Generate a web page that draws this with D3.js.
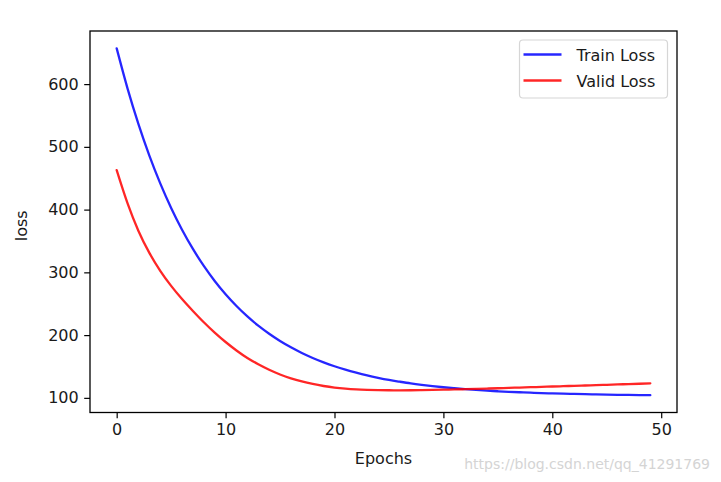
<!DOCTYPE html>
<html>
<head>
<meta charset="utf-8">
<script src="https://cdn.jsdelivr.net/npm/d3@7"></script>
<style>
  html, body { margin: 0; padding: 0; background: #fff; }
  svg { display: block; }
  text { font-family: "DejaVu Sans", sans-serif; fill: #1a1a1a; }
</style>
</head>
<body>
<svg id="chart" width="721" height="482"></svg>
<script>
// ---- data ----
const epochs = d3.range(0, 50);
const trainLoss = [657.0, 592.9, 536.2, 486.1, 441.8, 402.6, 367.9, 337.3, 310.2, 286.2,
  265.0, 246.3, 229.7, 215.0, 202.1, 190.6, 180.5, 171.5, 163.6, 156.6,
  150.4, 144.9, 140.1, 135.8, 132.0, 128.6, 125.7, 123.0, 120.7, 118.7,
  116.9, 115.3, 113.8, 112.6, 111.5, 110.5, 109.6, 108.9, 108.2, 107.6,
  107.1, 106.6, 106.2, 105.8, 105.5, 105.2, 104.9, 104.7, 104.5, 104.3];
const validLoss = [463.0, 410.0, 366.0, 331.0, 302.5, 278.5, 257.5, 238.5, 220.5, 204.0,
  189.0, 175.5, 163.5, 153.5, 144.8, 137.3, 131.1, 126.1, 122.1, 118.9,
  116.4, 114.6, 113.4, 112.7, 112.3, 112.1, 112.0, 112.1, 112.3, 112.6,
  113.0, 113.4, 113.8, 114.3, 114.8, 115.3, 115.9, 116.4, 117.0, 117.5,
  118.1, 118.6, 119.2, 119.7, 120.3, 120.8, 121.4, 121.9, 122.5, 123.2];
const seriesNames = ["Train Loss", "Valid Loss"];
const seriesColors = ["#0000ff", "#ff0000"];
const xTicks = [0, 10, 20, 30, 40, 50];
const yTicks = [100, 200, 300, 400, 500, 600];
const xLabel = "Epochs";
const yLabel = "loss";
const watermark = "https://blog.csdn.net/qq_41291769";

// ---- layout ----
const svg = d3.select("#chart");
const L = 90, R = 677, T = 31, B = 412.5;
const fs = 16;

function padded(ext) { const m = (ext[1] - ext[0]) * 0.05; return [ext[0] - m, ext[1] + m]; }
const x = d3.scaleLinear().domain(padded(d3.extent(epochs))).range([L, R]);
const y = d3.scaleLinear().domain(padded(d3.extent(trainLoss.concat(validLoss)))).range([B, T]);

// lines
const series = [trainLoss, validLoss];
const line = d3.line().curve(d3.curveMonotoneX).x((d, i) => x(epochs[i])).y(d => y(d));
series.forEach((vals, k) => {
  svg.append("path").datum(vals)
    .attr("d", line)
    .attr("fill", "none")
    .attr("stroke", seriesColors[k])
    .attr("stroke-opacity", 0.85)
    .attr("stroke-width", 2.3)
    .attr("stroke-linecap", "round");
});

// axes
const xAxis = d3.axisBottom(x).tickValues(xTicks).tickSize(5.8).tickPadding(5.5).tickFormat(d3.format("d"));
const yAxis = d3.axisLeft(y).tickValues(yTicks).tickSize(5.8).tickPadding(5.5).tickFormat(d3.format("d"));
const gx = svg.append("g").attr("transform", `translate(0,${B})`).call(xAxis);
const gy = svg.append("g").attr("transform", `translate(${L},0)`).call(yAxis);
[gx, gy].forEach(g => {
  g.select(".domain").remove();
  g.selectAll(".tick line").attr("stroke", "#000").attr("stroke-width", 1.2);
  g.selectAll(".tick text").attr("font-family", "DejaVu Sans").attr("font-size", fs).attr("fill", "#1a1a1a");
});

// frame (spines)
svg.append("rect").attr("x", L).attr("y", T).attr("width", R - L).attr("height", B - T)
  .attr("fill", "none").attr("stroke", "#000").attr("stroke-width", 1.3);

// axis labels
svg.append("text").attr("x", (L + R) / 2).attr("y", 464).attr("text-anchor", "middle")
  .attr("font-size", fs).text(xLabel);
svg.append("text").attr("transform", `translate(27,${(T + B) / 2 + 4}) rotate(-90)`)
  .attr("text-anchor", "middle").attr("font-size", fs).text(yLabel);

// legend
const lg = svg.append("g");
lg.append("rect").attr("x", 519.5).attr("y", 40).attr("width", 148).attr("height", 58)
  .attr("rx", 3.5).attr("fill", "#fff").attr("fill-opacity", 0.8)
  .attr("stroke", "#d6d6d6").attr("stroke-width", 1.2);
seriesNames.forEach((name, k) => {
  const yy = 54.5 + k * 26;
  lg.append("line").attr("x1", 523.5).attr("x2", 561.5).attr("y1", yy).attr("y2", yy)
    .attr("stroke", seriesColors[k]).attr("stroke-opacity", 0.85).attr("stroke-width", 2.3);
  lg.append("text").attr("x", 576.5).attr("y", yy + 6).attr("font-size", fs).text(name);
});

// watermark
svg.append("text").attr("x", 710).attr("y", 469).attr("text-anchor", "end")
  .attr("font-family", "Liberation Sans, Arial, sans-serif").attr("font-size", 14)
  .style("fill", "#d4d4d4").text(watermark);
</script>
</body>
</html>
